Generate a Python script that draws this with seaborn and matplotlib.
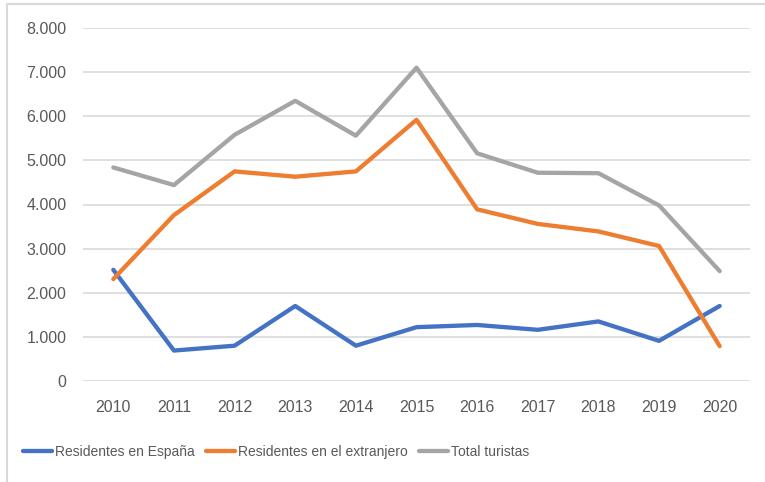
import pandas as pd
import matplotlib.pyplot as plt
import matplotlib.ticker as mticker
from matplotlib.patches import Rectangle
import seaborn as sns

# ---- Datos ----
anios = ["2010", "2011", "2012", "2013", "2014", "2015", "2016", "2017", "2018", "2019", "2020"]
residentes_espana = [2520, 690, 800, 1700, 800, 1220, 1270, 1160, 1350, 910, 1700]
residentes_extranjero = [2310, 3760, 4750, 4630, 4750, 5920, 3890, 3560, 3390, 3060, 790]
total_turistas = [4840, 4440, 5580, 6350, 5560, 7100, 5160, 4720, 4710, 3980, 2490]

series = ["Residentes en España", "Residentes en el extranjero", "Total turistas"]
colores = ["#4472C4", "#ED7D31", "#A5A5A5"]

df = pd.DataFrame({
    "anio": anios * 3,
    "valor": residentes_espana + residentes_extranjero + total_turistas,
    "serie": [series[0]] * 11 + [series[1]] * 11 + [series[2]] * 11,
})

sns.set_style("white")
plt.rcParams['font.family'] = ['Liberation Sans', 'DejaVu Sans']
texto = "#595959"

fig = plt.figure(figsize=(7.65, 4.82), dpi=100)
ax = fig.add_axes([83 / 765, 1 - 381 / 482, (750 - 83) / 765, (381 - 28) / 482])

sns.lineplot(data=df, x="anio", y="valor", hue="serie", hue_order=series,
             palette=colores, linewidth=3.1, sort=False, ax=ax, legend=True)

ax.set_ylim(0, 8000)
ax.set_xlim(-0.5, 10.5)
ax.yaxis.set_major_locator(mticker.MultipleLocator(1000))
ax.yaxis.set_major_formatter(mticker.FuncFormatter(lambda v, p: f"{int(v):,}".replace(",", ".")))
ax.grid(axis="y", color="#D9D9D9", linewidth=1.2)
ax.set_axisbelow(True)
for s in ax.spines.values():
    s.set_visible(False)
ax.set_xlabel("")
ax.set_ylabel("")
ax.tick_params(axis="x", length=0, pad=14, labelsize=11.5, colors=texto)
ax.tick_params(axis="y", length=0, pad=12, labelsize=11.5, colors=texto)

# leyenda abajo
handles, labels = ax.get_legend_handles_labels()
ax.legend_.remove()
leg = fig.legend(handles, labels, loc="center", bbox_to_anchor=(276 / 765, 1 - 452 / 482),
                 ncol=3, frameon=False, fontsize=10, handlelength=2.1,
                 handletextpad=0.2, columnspacing=0.8, labelcolor=texto)
for l in leg.get_lines():
    l.set_linewidth(3.1)

# borde del área del gráfico
fig.patches.append(Rectangle((7 / 765, -0.1), 1.2, 1.1 - 4 / 482, transform=fig.transFigure,
                             fill=False, edgecolor="#D9D9D9", linewidth=1.5))

fig.savefig("out.png", dpi=100)
